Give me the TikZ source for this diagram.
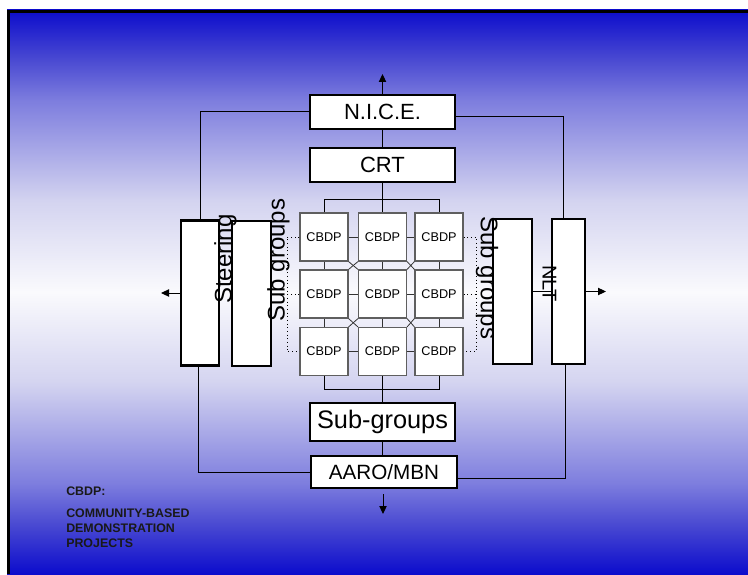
\documentclass[tikz,border=0pt]{standalone}
\usepackage{fontspec}
\setmainfont{Liberation Sans}
\usetikzlibrary{arrows.meta}

\definecolor{deepblue}{RGB}{12,12,204}
\definecolor{bgA}{RGB}{75,75,210}
\definecolor{bgB}{RGB}{125,125,222}
\definecolor{bgC}{RGB}{212,212,240}
\definecolor{paleblue}{RGB}{250,250,253}
\definecolor{gridgray}{RGB}{95,95,95}

% blue at top and bottom, fading to near white in the middle
\pgfdeclareverticalshading{slidebg}{100bp}{
  color(0bp)=(deepblue); color(25bp)=(deepblue);
  color(29.5bp)=(bgA); color(33bp)=(bgB); color(42bp)=(bgC);
  color(50bp)=(paleblue);
  color(58bp)=(bgC); color(67bp)=(bgB); color(70.5bp)=(bgA);
  color(75bp)=(deepblue); color(100bp)=(deepblue)}

\tikzset{
  bigbox/.style={draw=black, line width=1.9pt, fill=white, inner sep=0pt,
    minimum width=108.75pt},
  tallbox/.style={draw=black, line width=1.9pt, fill=white, inner sep=0pt,
    minimum height=109pt},
  cbdpbox/.style={draw=gridgray, line width=0.9pt, fill=white, inner sep=0pt,
    minimum width=36pt, minimum height=36pt,
    font=\fontsize{9.5pt}{11pt}\selectfont},
  link/.style={draw=black, line width=0.75pt},
  gridlink/.style={draw=black!80, line width=0.75pt},
  dots/.style={draw=black, line width=0.75pt, dotted},
  arr/.style={link, -{Triangle[length=6pt,width=5.5pt]}},
  vtext/.style={inner sep=0pt, font=\fontsize{18pt}{21pt}\selectfont},
  note/.style={inner sep=0pt, anchor=west, align=left,
    font=\fontsize{9.3pt}{11.25pt}\selectfont\bfseries, text=black!90},
}

\begin{document}
\begin{tikzpicture}[x=0.75pt, y=-0.75pt]
\useasboundingbox (0,0) rectangle (748,574);

% slide background
\shade[shading=slidebg] (7,10) rectangle (748,574);
\draw[line width=2pt] (8.3,574) -- (8.3,11.3) -- (748,11.3);

% main column of boxes
\node[bigbox, minimum height=25.5pt, font=\fontsize{16.5pt}{19pt}\selectfont]
  (nice) at (382.5,112) {N.I.C.E.};
\node[bigbox, minimum height=25.5pt, font=\fontsize{16.5pt}{19pt}\selectfont]
  (crt) at (382.5,165) {CRT};
\node[bigbox, minimum height=28.5pt, font=\fontsize{19pt}{22pt}\selectfont]
  (subg) at (382.5,422) {Sub-groups};
\node[bigbox, minimum width=109.5pt, minimum height=24pt,
  font=\fontsize{15.5pt}{18pt}\selectfont]
  (aaro) at (384,472) {AARO/MBN};

% side boxes
\node[tallbox, minimum width=28.5pt] (steer) at (200,293) {};
\node[tallbox, minimum width=29.25pt] (lsub) at (251.5,293.5) {};
\node[tallbox, minimum width=29.25pt] (rsub) at (512.5,291.5) {};
\node[tallbox, minimum width=24.75pt] (nlt) at (568.5,291.5) {};

% CBDP grid
\foreach \r/\y in {1/237,2/294,3/351.5}{
  \foreach \c/\x in {1/324,2/382.5,3/439}{
    \node[cbdpbox] (c\r\c) at (\x,\y) {CBDP};
  }
}

% grid links: horizontal and vertical neighbours
\foreach \r in {1,2,3}{
  \draw[gridlink] (c\r1.east) -- (c\r2.west);
  \draw[gridlink] (c\r2.east) -- (c\r3.west);
}
\foreach \c in {1,2,3}{
  \draw[gridlink] (c1\c.south) -- (c2\c.north);
  \draw[gridlink] (c2\c.south) -- (c3\c.north);
}
% grid links: diagonal crossings
\foreach \r/\s in {1/2,2/3}{
  \foreach \c/\d in {1/2,2/3}{
    \draw[gridlink, line width=0.6pt] (c\r\c.south east) -- (c\s\d.north west);
    \draw[gridlink, line width=0.6pt] (c\r\d.south west) -- (c\s\c.north east);
  }
}

% dotted side rails
\coordinate (dl) at (287,0);
\coordinate (dr) at (476,0);
\draw[dots] (c11.west) -- (c11.west -| dl) -- (c31.west -| dl) -- (c31.west);
\draw[dots] (c21.west) -- (c21.west -| dl);
\draw[dots] (c13.east) -- (c13.east -| dr) -- (c33.east -| dr) -- (c33.east);
\draw[dots] (c23.east) -- (c23.east -| dr);

% brackets above and below the grid
\coordinate (tb) at (0,199);
\coordinate (bb) at (0,389);
\draw[link] (nice.south) -- (crt.north);
\draw[link] (crt.south) -- (c12.north);
\draw[link] (c11.north) -- (c11.north |- tb) -- (c13.north |- tb) -- (c13.north);
\draw[link] (c31.south) -- (c31.south |- bb) -- (c33.south |- bb) -- (c33.south);
\draw[link] (c32.south) -- (subg.north);
\draw[link] (subg.south) -- (subg.south |- aaro.north);

% outer loop
\draw[link] (nice.west) -| (steer.north);
\draw[link] ([yshift=-3.75pt]nice.east) -| ([xshift=-4.1pt]nlt.north);
\draw[link] ([xshift=-1.5pt]steer.south) |- (aaro.west);
\draw[link] ([xshift=-2.6pt]nlt.south) |- ([yshift=-4.5pt]aaro.east);
\draw[link] (rsub.east |- nlt.west) -- (nlt.west);

% outward arrows
\coordinate (upend) at (382.5,74);
\coordinate (downstart) at (383,494);
\coordinate (downend) at (383,514);
\coordinate (leftend) at (161,0);
\coordinate (rightend) at (606,0);
\draw[arr] (nice.north) -- (upend);
\draw[arr] (downstart) -- (downend);
\draw[arr] (steer.west) -- (steer.west -| leftend);
\draw[arr] (nlt.east) -- (nlt.east -| rightend);

% rotated labels
\node[vtext, rotate=90] (steertxt) at (225.5,259) {Steering};
\node[vtext, rotate=90] (lsubtxt) at (278.5,260) {Sub groups};
\node[vtext, rotate=-90] (rsubtxt) at (487,278) {Sub groups};
\node[vtext, rotate=-90, font=\fontsize{15pt}{18pt}\selectfont]
  (nlttxt) at (549.5,283.5) {NLT};

% legend
\node[note] (key) at (66,491) {CBDP:};
\node[note] (keytext) at (66,528) {COMMUNITY-BASED\\DEMONSTRATION\\PROJECTS};
\end{tikzpicture}
\end{document}
